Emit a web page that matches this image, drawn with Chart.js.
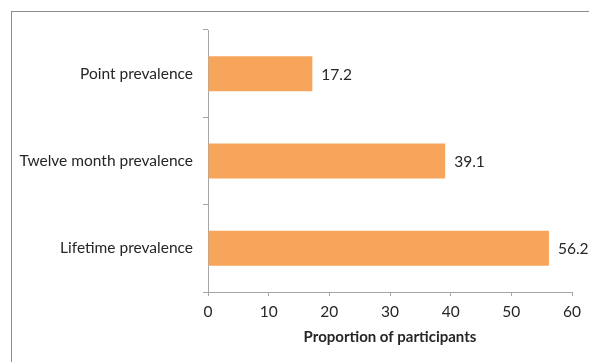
<!DOCTYPE html>
<html>
<head>
<meta charset="utf-8">
<script src="https://cdn.jsdelivr.net/npm/chart.js@4"></script>
<style>
  html, body { margin: 0; padding: 0; background: #fff; overflow: hidden; }
  #wrap { position: relative; width: 589px; height: 362px; }
  #frame { position: absolute; left: 11px; top: 11px; width: 700px; height: 500px; border: 1px solid #8c8c8c; }
  canvas { position: absolute; left: 0; top: 0; }
</style>
</head>
<body>
<div id="wrap">
  <div id="frame"></div>
  <canvas id="prevChart" width="589" height="362"></canvas>
</div>
<script>
// data
const categories = ["Point prevalence", "Twelve month prevalence", "Lifetime prevalence"];
const values = [17.2, 39.1, 56.2];
const xTicks = [0, 10, 20, 30, 40, 50, 60];

const textColor = "#262626";
const axisColor = "#a6a6a6";
const fontFamily = "Lato, 'Open Sans', sans-serif";

// value labels to the right of each bar
const valueLabels = {
    id: "valueLabels",
    afterDatasetsDraw(chart) {
        let ctx = chart.ctx;
        let meta = chart.getDatasetMeta(0);
        ctx.save();
        ctx.font = "15.5px " + fontFamily;
        ctx.fillStyle = textColor;
        ctx.textAlign = "left";
        ctx.textBaseline = "middle";
        meta.data.forEach((bar, i) => {
            ctx.fillText(values[i].toFixed(1), bar.x + 9, bar.y + 1);
        });
        ctx.restore();
    }
};

new Chart(document.getElementById("prevChart"), {
    type: "bar",
    data: {
        labels: categories,
        datasets: [{
            data: values,
            backgroundColor: "#f7a55a",
            borderWidth: 0,
            categoryPercentage: 0.4,
            barPercentage: 1
        }]
    },
    options: {
        indexAxis: "y",
        responsive: false,
        animation: false,
        layout: { padding: { top: 30, right: 17, left: 0, bottom: 0 } },
        plugins: {
            legend: { display: false },
            tooltip: { enabled: false }
        },
        scales: {
            x: {
                min: 0,
                max: 60,
                afterBuildTicks: scale => { scale.ticks = xTicks.map(v => ({ value: v })); },
                afterFit: scale => { scale.height = 70; },
                grid: { drawOnChartArea: false, color: axisColor, tickLength: 4 },
                border: { color: axisColor },
                ticks: { color: textColor, font: { family: fontFamily, size: 15.5 }, padding: 7 },
                title: {
                    display: true,
                    text: "Proportion of participants",
                    color: textColor,
                    font: { family: fontFamily, size: 15, weight: "bold" },
                    padding: { top: 2, bottom: 16 }
                }
            },
            y: {
                afterFit: scale => { scale.width = 208; },
                grid: { drawOnChartArea: false, color: axisColor, tickLength: 5, offset: true },
                border: { color: axisColor },
                ticks: { color: textColor, font: { family: fontFamily, size: 15.5 }, padding: 10 }
            }
        }
    },
    plugins: [valueLabels]
});
</script>
</body>
</html>
